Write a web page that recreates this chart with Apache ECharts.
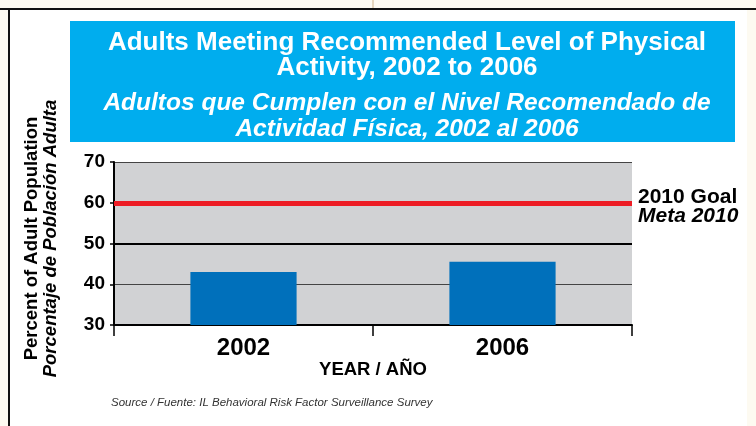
<!DOCTYPE html>
<html>
<head>
<meta charset="utf-8">
<script src="https://cdn.jsdelivr.net/npm/echarts@6/dist/echarts.min.js"></script>
<style>
  html, body { margin: 0; padding: 0; background: #fdfaf1; }
  #main { width: 756px; height: 426px; }
</style>
</head>
<body>
<div id="main"></div>
<script>
// data
var years = ["2002", "2006"];
var percentMeeting = [43, 45.5];
var goal2010 = 60;
var yTicks = { min: 30, max: 70, step: 10 };

var FONT = 'Arial, "Liberation Sans", Helvetica, sans-serif';

var chart = echarts.init(document.getElementById("main"));
var option = {
    backgroundColor: "#fdfaf1",
    animation: false,
    graphic: [
        // white page with black frame on top/left
        { type: "rect", z: -10, shape: { x: 9, y: 9, width: 738, height: 420 }, style: { fill: "#ffffff" } },
        { type: "line", z: -9, shape: { x1: 0, y1: 9, x2: 756, y2: 9 }, style: { stroke: "#111", lineWidth: 2 } },
        { type: "line", z: -9, shape: { x1: 9, y1: 9, x2: 9, y2: 426 }, style: { stroke: "#111", lineWidth: 2 } },
        { type: "line", z: -9, shape: { x1: 373, y1: 0, x2: 373, y2: 8 }, style: { stroke: "#e6d6bd", lineWidth: 2 } },
        // title banner
        { type: "rect", z: 0, shape: { x: 70, y: 21, width: 665, height: 121 }, style: { fill: "#00adee" } }
    ],
    title: [
        {
            text: "Adults Meeting Recommended Level of Physical\nActivity, 2002 to 2006",
            left: 402, top: 25, textAlign: "center", z: 6,
            textStyle: { color: "#fff", fontFamily: FONT, fontWeight: "bold", fontSize: 26, lineHeight: 25 }
        },
        {
            text: "Adultos que Cumplen con el Nivel Recomendado de\nActividad Física, 2002 al 2006",
            left: 402, top: 85, textAlign: "center", z: 6,
            textStyle: { color: "#fff", fontFamily: FONT, fontWeight: "bold", fontStyle: "italic", fontSize: 24.5, lineHeight: 26 }
        },
        {
            text: "Source / Fuente: IL Behavioral Risk Factor Surveillance Survey",
            left: 106, top: 392,
            textStyle: { color: "#333", fontFamily: FONT, fontStyle: "italic", fontWeight: "normal", fontSize: 11.5 }
        }
    ],
    grid: {
        left: 114, right: 124, top: 162, bottom: 101,
        show: true, backgroundColor: "#d1d2d4", borderWidth: 0
    },
    xAxis: {
        type: "category",
        data: years,
        axisLine: { lineStyle: { color: "#000", width: 2 } },
        axisTick: { show: true, length: 11, lineStyle: { color: "#000", width: 1.5 } },
        axisLabel: { color: "#000", fontFamily: FONT, fontWeight: "bold", fontSize: 24, margin: 11 },
        name: "YEAR / AÑO",
        nameLocation: "middle",
        nameGap: 34,
        nameTextStyle: { color: "#000", fontFamily: FONT, fontWeight: "bold", fontSize: 18.5 }
    },
    yAxis: {
        type: "value",
        min: yTicks.min, max: yTicks.max, interval: yTicks.step,
        axisLine: { show: true, lineStyle: { color: "#000", width: 2 } },
        axisTick: { show: true, length: 4, lineStyle: { color: "#000", width: 1.5 } },
        axisLabel: { color: "#000", fontFamily: FONT, fontWeight: "bold", fontSize: 19, margin: 9 },
        splitLine: { show: true, lineStyle: { color: ["#000", "#444", "#000", "#999", "#444"], width: 1.2 } },
        name: "{a|Percent of Adult Population}\n{b|Porcentaje de Población Adulta}",
        nameLocation: "middle",
        nameRotate: 90,
        nameGap: 54,
        nameTextStyle: {
            padding: [0, 0, 0, 10],
            rich: {
                a: { color: "#000", fontFamily: FONT, fontWeight: "bold", fontSize: 18.5, lineHeight: 19 },
                b: { color: "#000", fontFamily: FONT, fontWeight: "bold", fontStyle: "italic", fontSize: 18.5, lineHeight: 19 }
            }
        }
    },
    series: [
        {
            type: "bar",
            data: percentMeeting,
            barWidth: "41%",
            itemStyle: { color: "#0070bb" },
            markLine: {
                silent: true,
                symbol: "none",
                data: [
                    {
                        yAxis: 50,
                        lineStyle: { color: "#000", width: 2, type: "solid" },
                        label: { show: false }
                    },
                    {
                        yAxis: goal2010,
                        lineStyle: { color: "#ed1c24", width: 5, type: "solid" },
                        label: {
                            show: true,
                            position: "end",
                            distance: 6,
                            padding: [8, 0, 0, 0],
                            formatter: "{a|2010 Goal}\n{b|Meta 2010}",
                            rich: {
                                a: { color: "#000", fontFamily: FONT, fontWeight: "bold", fontSize: 21, lineHeight: 19 },
                                b: { color: "#000", fontFamily: FONT, fontWeight: "bold", fontStyle: "italic", fontSize: 21, lineHeight: 19 }
                            }
                        }
                    }
                ]
            }
        }
    ]
};
chart.setOption(option);
</script>
</body>
</html>
